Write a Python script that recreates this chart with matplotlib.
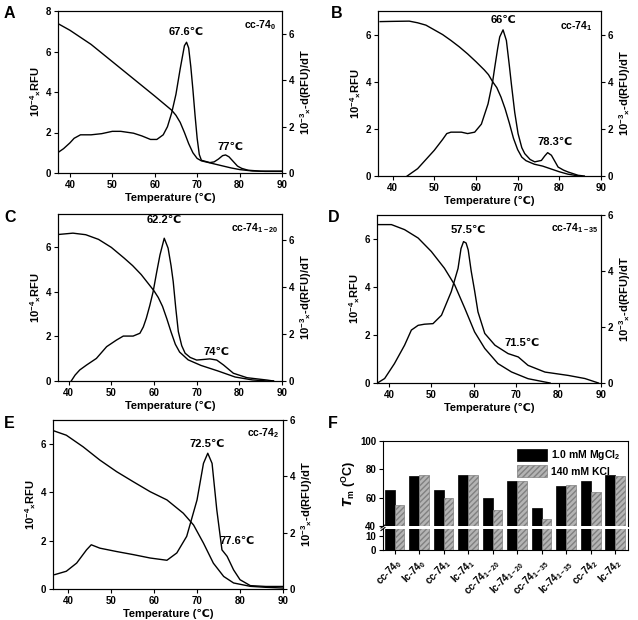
import matplotlib
matplotlib.use("Agg")
import matplotlib.pyplot as plt
import numpy as np

plt.rcParams['font.family'] = ['Liberation Sans', 'DejaVu Sans']
plt.rcParams['font.weight'] = 'bold'
plt.rcParams['mathtext.default'] = 'regular'
plt.rcParams['hatch.color'] = '#808080'

# ---------------- data ----------------
xticks_T = [40, 50, 60, 70, 80, 90]

# Panel A: cc-74_0
a_rfu_T = [37, 40, 45, 50, 55, 60, 62, 64, 65, 66, 67, 68, 69, 70, 71, 72, 74, 76, 78, 80, 83, 86, 90]
a_rfu = [7.4, 7.05, 6.35, 5.5, 4.65, 3.8, 3.45, 3.1, 2.85, 2.5, 2.0, 1.45, 1.0, 0.72, 0.6, 0.55, 0.45, 0.35, 0.25, 0.17, 0.1, 0.08, 0.08]
a_der_T = [37, 38.5, 40, 41, 42.5, 45, 47.5, 50, 52, 55, 57, 59, 60.5, 62, 63, 64, 65, 66, 67, 67.5, 68, 68.5, 69, 69.5, 70, 70.5, 71, 72, 73, 74, 75, 76, 76.7, 77.5, 78.5, 79.5, 80.5, 82, 85, 90]
a_der = [0.86, 1.05, 1.3, 1.5, 1.65, 1.65, 1.7, 1.8, 1.8, 1.72, 1.6, 1.45, 1.45, 1.65, 2.0, 2.6, 3.4, 4.5, 5.5, 5.65, 5.4, 4.6, 3.6, 2.5, 1.5, 0.8, 0.55, 0.5, 0.45, 0.48, 0.6, 0.75, 0.78, 0.7, 0.5, 0.3, 0.2, 0.12, 0.08, 0.08]

# Panel B: cc-74_1
b_rfu_T = [37, 40, 44, 46, 48, 50, 52, 54, 56, 58, 60, 62, 63, 64, 65, 66, 67, 68, 69, 70, 71, 72, 74, 76, 78, 80, 82, 84, 85]
b_rfu = [6.55, 6.56, 6.57, 6.5, 6.4, 6.2, 6.0, 5.75, 5.48, 5.18, 4.85, 4.5, 4.3, 4.0, 3.75, 3.35, 2.85, 2.25, 1.6, 1.12, 0.8, 0.65, 0.5, 0.42, 0.3, 0.18, 0.08, 0.02, 0]
b_der_T = [43.5, 46, 48, 50, 52, 53, 54, 56.5, 58, 59.7, 61.3, 62.9, 64, 64.5, 65.2, 65.7, 66.5, 67.3, 68, 68.5, 69.3, 70.1, 71, 71.7, 73, 74.1, 75.7, 76.5, 77.2, 78.1, 79, 79.7, 81, 82.1, 84.5, 86]
b_der = [0, 0.31, 0.7, 1.09, 1.55, 1.8, 1.86, 1.86, 1.8, 1.86, 2.2, 3.06, 4.0, 4.6, 5.4, 5.9, 6.2, 5.75, 4.7, 3.9, 2.7, 1.8, 1.2, 0.95, 0.7, 0.6, 0.66, 0.85, 0.99, 0.88, 0.6, 0.38, 0.25, 0.17, 0.03, 0]

# Panel C: cc-74_1-20
c_rfu_T = [37, 41, 44, 47, 50, 53, 55, 57, 60, 61, 62, 63, 64, 65, 66, 68, 71, 75, 79, 83, 86.5, 88]
c_rfu = [6.57, 6.64, 6.57, 6.36, 6.0, 5.52, 5.18, 4.78, 4.05, 3.75, 3.35, 2.8, 2.2, 1.65, 1.3, 0.95, 0.7, 0.45, 0.18, 0.05, 0, 0]
c_der_T = [40.6, 41.5, 42.6, 44.2, 46.5, 48.9, 51.2, 52.8, 55.1, 56.7, 57.5, 58.2, 59, 59.8, 60.6, 61.4, 62.4, 63.3, 64, 64.5, 65.1, 65.7, 66.5, 67.3, 68.5, 70, 73.1, 74.7, 76.3, 78.6, 81.8, 86.5, 88]
c_der = [0, 0.25, 0.47, 0.68, 0.96, 1.46, 1.74, 1.91, 1.91, 2.03, 2.3, 2.67, 3.2, 3.8, 4.6, 5.36, 6.07, 5.65, 4.9, 4.23, 3.1, 2.1, 1.5, 1.18, 1.0, 0.89, 0.94, 0.89, 0.68, 0.33, 0.14, 0.04, 0]

# Panel D: cc-74_1-35
d_rfu_T = [37.2, 40.6, 43.7, 46.9, 50, 53.1, 55.5, 57.9, 60.2, 62.6, 65.7, 68.9, 72.8, 76.8, 78]
d_rfu = [6.6, 6.6, 6.39, 6.04, 5.48, 4.78, 4.09, 3.11, 2.13, 1.44, 0.81, 0.46, 0.18, 0.04, 0]
d_der_T = [37.3, 39, 41.3, 43.7, 45.3, 46.9, 48.4, 50.4, 52.4, 54.7, 56.3, 57.0, 57.6, 58.2, 58.7, 59.4, 60.2, 61, 62.6, 65, 68.1, 70.5, 72.8, 76.8, 82.3, 86.2, 89.4]
d_der = [0, 0.16, 0.69, 1.35, 1.89, 2.06, 2.1, 2.12, 2.42, 3.26, 4.09, 4.8, 5.05, 5.0, 4.75, 4.0, 3.3, 2.54, 1.77, 1.35, 1.05, 0.93, 0.63, 0.39, 0.27, 0.16, 0]

# Panel E: cc-74_2
e_rfu_T = [36.7, 39.6, 43.5, 47.4, 51.3, 55.2, 59.1, 63, 66.8, 69.2, 71.5, 73.8, 76.2, 78.5, 82.4, 86, 90]
e_rfu = [6.55, 6.37, 5.89, 5.34, 4.86, 4.44, 4.03, 3.69, 3.14, 2.65, 1.9, 1.07, 0.52, 0.25, 0.11, 0.07, 0.04]
e_der_T = [36.9, 39.6, 42, 44.3, 45.4, 47.4, 51.3, 55.2, 59.1, 63, 65.3, 67.6, 70, 71.5, 72.5, 73.5, 74.6, 75.8, 77, 78.5, 80, 82.4, 86, 90]
e_der = [0.51, 0.63, 0.92, 1.39, 1.57, 1.45, 1.33, 1.22, 1.1, 1.02, 1.28, 1.87, 3.16, 4.46, 4.82, 4.46, 2.81, 1.39, 1.16, 0.68, 0.33, 0.12, 0.09, 0.09]

# Panel F: Tm bars
f_categories = ['cc-74$_{0}$', 'lc-74$_{0}$', 'cc-74$_{1}$', 'lc-74$_{1}$', 'cc-74$_{1-20}$',
                'lc-74$_{1-20}$', 'cc-74$_{1-35}$', 'lc-74$_{1-35}$', 'cc-74$_{2}$', 'lc-74$_{2}$']
f_mgcl2 = [65.2, 75.3, 65.2, 76.2, 59.8, 71.8, 52.9, 68.2, 71.8, 76.2]
f_kcl = [55.0, 76.0, 60.0, 76.2, 51.0, 71.8, 45.2, 68.7, 63.8, 75.3]
f_legend = ['1.0 mM MgCl$_{2}$', '140 mM KCl']

W, H = 638, 620
fig = plt.figure(figsize=(W / 100, H / 100), dpi=100)


def px_axes(l, r, t, b):
    return fig.add_axes([l / W, 1 - b / H, (r - l) / W, (b - t) / H])


TICK = dict(labelsize=7, length=3, width=0.8, pad=2)


def melt_panel(rect, letter, xlim, lyl, lyticks, ryl, ryticks, rfuT, rfu, derT, der,
               sample, sample_xy, peaks, letter_xy):
    ax = px_axes(*rect)
    ax.plot(rfuT, rfu, color='black', lw=1.0)
    ax.set_xlim(*xlim)
    ax.set_ylim(*lyl)
    ax.set_yticks(lyticks)
    ax.set_xticks(xticks_T)
    ax.tick_params(**TICK)
    for lab in ax.get_xticklabels() + ax.get_yticklabels():
        lab.set_fontweight('bold')
    ax.set_xlabel('Temperature (℃)', fontsize=8, fontweight='bold', labelpad=2)
    ax.set_ylabel('10$^{-4}$$_{×}$RFU', fontsize=8, fontweight='bold', labelpad=2)
    ax2 = ax.twinx()
    ax2.plot(derT, der, color='black', lw=1.0)
    ax2.set_ylim(*ryl)
    ax2.set_yticks(ryticks)
    ax2.tick_params(**TICK)
    for lab in ax2.get_yticklabels():
        lab.set_fontweight('bold')
    ax2.set_ylabel('10$^{-3}$$_{×}$-d(RFU)/dT', fontsize=8, fontweight='bold', labelpad=3)
    for s in list(ax.spines.values()) + list(ax2.spines.values()):
        s.set_linewidth(0.8)
    ax.text(sample_xy[0], sample_xy[1], sample, fontsize=7.5, fontweight='bold',
            ha='center', va='center')
    for (txt, x, y) in peaks:
        ax.text(x, y, txt, fontsize=8, fontweight='bold', ha='center', va='center')
    fig.text(letter_xy[0] / W, 1 - letter_xy[1] / H, letter, fontsize=11.5,
             fontweight='bold', ha='left', va='center')
    return ax


melt_panel((58, 282, 11, 173), 'A', (37.2, 90), (0, 8), [0, 2, 4, 6, 8], (0, 7), [0, 2, 4, 6],
           a_rfu_T, a_rfu, a_der_T, a_der, 'cc-74$_{0}$', (84.9, 7.3),
           [('67.6℃', 67.5, 6.95), ('77℃', 77.9, 1.3)], (4, 13))
melt_panel((378, 601, 11, 176), 'B', (36.5, 90), (0, 7), [0, 2, 4, 6], (0, 7), [0, 2, 4, 6],
           b_rfu_T, b_rfu, b_der_T, b_der, 'cc-74$_{1}$', (84.1, 6.38),
           [('66℃', 66.5, 6.6), ('78.3℃', 78.9, 1.44)], (331, 13))
melt_panel((58, 282, 214, 381), 'C', (37.5, 90), (0, 7.5), [0, 2, 4, 6], (0, 7.1), [0, 2, 4, 6],
           c_rfu_T, c_rfu, c_der_T, c_der, 'cc-74$_{1-20}$', (83.7, 6.87),
           [('62.2℃', 62.3, 7.24), ('74℃', 74.7, 1.32)], (4, 218))
melt_panel((377, 601, 215, 383), 'D', (37.2, 90), (0, 7), [0, 2, 4, 6], (0, 6), [0, 2, 4, 6],
           d_rfu_T, d_rfu, d_der_T, d_der, 'cc-74$_{1-35}$', (83.9, 6.46),
           [('57.5℃', 58.7, 6.39), ('71.5℃', 71.3, 1.65)], (328, 217))
melt_panel((53, 283, 420, 589), 'E', (36.5, 90), (0, 7), [0, 2, 4, 6], (0, 6), [0, 2, 4, 6],
           e_rfu_T, e_rfu, e_der_T, e_der, 'cc-74$_{2}$', (85.5, 6.44),
           [('72.5℃', 72.3, 6.02), ('77.6℃', 79.3, 1.97)], (4, 423))

# ---------------- Panel F ----------------
x = np.arange(len(f_categories))
bw = 0.4
axu = px_axes(383, 628, 441, 526)
axl = px_axes(383, 628, 529, 550)
for a in (axu, axl):
    a.bar(x - bw / 2, f_mgcl2, width=bw, color='black', edgecolor='black', lw=0.5,
          label=f_legend[0])
    a.bar(x + bw / 2, f_kcl, width=bw, color='#b4b4b4', edgecolor='#808080', lw=0.5,
          hatch='//////', label=f_legend[1])
    a.set_xlim(-0.47, 9.52)
    a.tick_params(**TICK)
    for s in a.spines.values():
        s.set_linewidth(0.8)
axu.set_ylim(40, 100)
axu.set_yticks([40, 60, 80, 100])
axu.spines['bottom'].set_visible(False)
axu.tick_params(axis='x', bottom=False, labelbottom=False)
axl.set_ylim(0, 15)
axl.set_yticks([0, 10])
axl.spines['top'].set_visible(False)
axl.set_xticks(x)
axl.set_xticklabels(f_categories, rotation=45, ha='right', rotation_mode='anchor',
                    fontsize=7, fontweight='bold')
for a in (axu, axl):
    for lab in a.get_yticklabels():
        lab.set_fontweight('bold')
axu.set_ylabel('$\\mathit{T}_{m}$ ($^{O}$C)', fontsize=9, fontweight='bold', labelpad=4)
axu.yaxis.set_label_coords(-0.1, 0.5)
leg = axu.legend(loc='upper right', frameon=False, handlelength=2.9,
                 handleheight=1.4, borderaxespad=0.3, labelspacing=0.3, handletextpad=0.4,
                 prop={'weight': 'bold', 'size': 7.5})
# break marks on left spine
kw = dict(color='black', lw=0.8, clip_on=False)
for yy in (526.5, 529):
    fy = 1 - yy / H
    fig.add_artist(plt.Line2D([381 / W, 385 / W], [fy - 1.5 / H, fy + 1.5 / H],
                              transform=fig.transFigure, **kw))
fig.text(328 / W, 1 - 423 / H, 'F', fontsize=11.5, fontweight='bold', ha='left', va='center')

fig.savefig('out.png', dpi=100, facecolor='white')
